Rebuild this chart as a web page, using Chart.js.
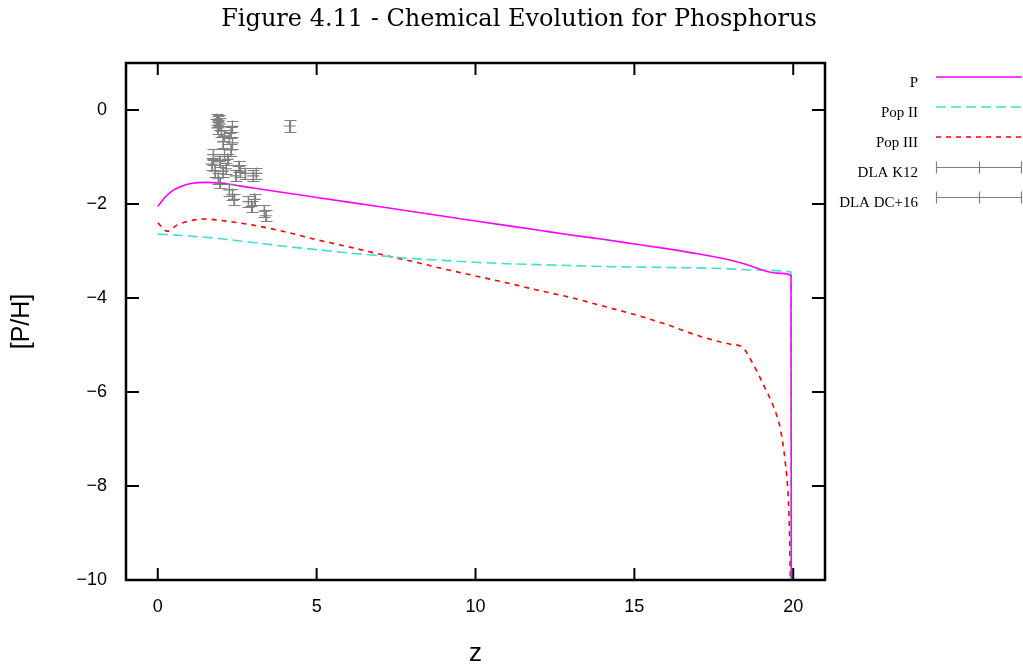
<!DOCTYPE html>
<html>
<head>
<meta charset="utf-8">
<script src="https://cdn.jsdelivr.net/npm/chart.js@4.4.1/dist/chart.umd.min.js"></script>
<style>
    html, body { margin: 0; padding: 0; background: #fff; }
    #wrap { width: 1023px; height: 670px; }
</style>
</head>
<body>
<div id="wrap"><canvas id="chemChart" width="1023" height="670"></canvas></div>
<script>
// Figure 4.11 - [P/H] against redshift z
const chartTitle = 'Figure 4.11 - Chemical Evolution for Phosphorus';
const xTicks = [0, 5, 10, 15, 20];
const yTicks = [0, -2, -4, -6, -8, -10];

// total P
const zP = [0, 0.25, 0.5, 0.75, 1.0, 1.5, 2, 3, 4, 5, 6, 7, 8, 9, 10, 11, 12, 13, 14, 15, 16, 17, 18, 18.5, 19, 19.5, 19.93, 19.94];
const valP = [-2.05, -1.84, -1.70, -1.62, -1.57, -1.54, -1.56, -1.66, -1.76, -1.86, -1.96, -2.06, -2.16, -2.26, -2.36, -2.46, -2.56, -2.66, -2.75, -2.85, -2.95, -3.06, -3.19, -3.28, -3.40, -3.47, -3.52, -10.5];

// Pop II contribution
const zPopII = [0, 1, 2, 3, 4, 5, 6, 7, 8, 9, 10, 11, 12, 13, 14, 15, 16, 17, 18, 19, 19.93, 19.94];
const valPopII = [-2.64, -2.68, -2.74, -2.82, -2.90, -2.97, -3.04, -3.10, -3.16, -3.20, -3.24, -3.27, -3.29, -3.31, -3.33, -3.34, -3.35, -3.36, -3.38, -3.41, -3.45, -10.5];

// Pop III contribution
const zPopIII = [0, 0.3, 0.6, 1.0, 1.5, 2, 3, 4, 5, 6, 7, 8, 9, 10, 11, 12, 13, 14, 15, 16, 17, 18, 18.4, 18.7, 19.1, 19.4, 19.6, 19.75, 19.84, 19.88, 19.92];
const valPopIII = [-2.40, -2.58, -2.45, -2.36, -2.32, -2.35, -2.45, -2.59, -2.76, -2.91, -3.07, -3.22, -3.38, -3.53, -3.68, -3.84, -3.99, -4.17, -4.35, -4.56, -4.80, -4.98, -5.05, -5.36, -5.90, -6.35, -6.80, -7.50, -8.20, -8.90, -10.5];

// DLA observations
const zK12 = [1.85, 1.90, 1.95, 1.88, 2.00, 2.35, 2.30, 2.10, 2.05, 2.35, 2.30, 1.75, 1.70, 1.95, 2.20, 2.15, 2.60, 2.75, 3.00, 3.10, 1.92, 2.25];
const valK12 = [-0.20, -0.25, -0.30, -0.38, -0.45, -0.35, -0.48, -0.55, -0.68, -0.70, -0.85, -0.95, -1.15, -1.10, -1.05, -1.25, -1.30, -1.35, -1.40, -1.35, -0.22, -0.60];
const zDC16 = [1.90, 1.95, 2.25, 2.35, 2.40, 2.85, 2.95, 3.05, 3.35, 3.40, 4.15, 2.55, 1.80, 2.10, 1.75, 2.05, 2.45];
const valDC16 = [-1.45, -1.55, -1.70, -1.80, -1.90, -1.95, -2.05, -1.90, -2.15, -2.25, -0.34, -1.20, -1.30, -0.95, -1.05, -1.30, -1.40];
const dlaErr = 0.12;

const toPoints = (xs, ys) => xs.map((x, i) => ({ x: x, y: ys[i] }));

const legendItems = [
    { label: 'P', color: '#ff00ff', dash: [] },
    { label: 'Pop II', color: '#40e0d0', dash: [10, 5] },
    { label: 'Pop III', color: '#ff0000', dash: [5, 5] },
    { label: 'DLA K12', color: '#808080', err: true },
    { label: 'DLA DC+16', color: '#808080', err: true }
];

// frame, inward ticks, error bars, titles and the side legend
const figurePlugin = {
    id: 'figurePlugin',
    afterDatasetsDraw(chart) {
        const ctx = chart.ctx;
        const xs = chart.scales.x, ys = chart.scales.y;
        ctx.save();
        ctx.strokeStyle = '#808080';
        ctx.lineWidth = 1.2;
        [toPoints(zK12, valK12), toPoints(zDC16, valDC16)].forEach(pts => {
            pts.forEach(p => {
                const px = Math.round(xs.getPixelForValue(p.x)) + 0.5;
                const y1 = Math.round(ys.getPixelForValue(p.y + dlaErr)) + 0.5;
                const y2 = Math.round(ys.getPixelForValue(p.y - dlaErr)) + 0.5;
                ctx.beginPath();
                ctx.moveTo(px, y1); ctx.lineTo(px, y2);
                ctx.moveTo(px - 6, y1); ctx.lineTo(px + 6, y1);
                ctx.moveTo(px - 6, y2); ctx.lineTo(px + 6, y2);
                ctx.stroke();
            });
        });
        ctx.restore();
    },
    afterDraw(chart) {
        const ctx = chart.ctx;
        const a = chart.chartArea;
        const xs = chart.scales.x, ys = chart.scales.y;
        ctx.save();

        // ticks pointing inward, mirrored
        ctx.strokeStyle = '#000';
        ctx.lineWidth = 2;
        ctx.beginPath();
        xTicks.forEach(v => {
            const px = xs.getPixelForValue(v);
            ctx.moveTo(px, a.bottom); ctx.lineTo(px, a.bottom - 12);
            ctx.moveTo(px, a.top); ctx.lineTo(px, a.top + 12);
        });
        yTicks.forEach(v => {
            const py = ys.getPixelForValue(v);
            ctx.moveTo(a.left, py); ctx.lineTo(a.left + 13, py);
            ctx.moveTo(a.right, py); ctx.lineTo(a.right - 13, py);
        });
        ctx.stroke();
        ctx.lineWidth = 2.5;
        ctx.strokeRect(a.left, a.top, a.right - a.left, a.bottom - a.top);

        // title
        ctx.fillStyle = '#000';
        ctx.font = '24px "DejaVu Serif"';
        ctx.textAlign = 'center';
        ctx.textBaseline = 'middle';
        ctx.fillText(chartTitle, 519, 20);

        // axis titles
        ctx.font = '26px "Liberation Sans"';
        ctx.fillText('z', (a.left + a.right) / 2, 654);
        ctx.save();
        ctx.translate(22, (a.top + a.bottom) / 2);
        ctx.rotate(-Math.PI / 2);
        ctx.font = '25px "Liberation Sans"';
        ctx.fillText('[P/H]', 0, 0);
        ctx.restore();

        // legend
        ctx.font = '15px "Liberation Serif"';
        ctx.textAlign = 'right';
        legendItems.forEach((item, i) => {
            const ly = 77 + i * 30;
            ctx.fillStyle = '#000';
            ctx.fillText(item.label, 918, ly + 6);
            ctx.strokeStyle = item.color;
            ctx.beginPath();
            if (item.err) {
                ctx.lineWidth = 1.2;
                ctx.setLineDash([]);
                const yy = ly + 0.5;
                ctx.moveTo(936.5, yy); ctx.lineTo(1021.5, yy);
                ctx.moveTo(936.5, yy - 6); ctx.lineTo(936.5, yy + 6);
                ctx.moveTo(1021.5, yy - 6); ctx.lineTo(1021.5, yy + 6);
                ctx.moveTo(979.5, yy - 6); ctx.lineTo(979.5, yy + 6);
            } else {
                ctx.lineWidth = 1.6;
                ctx.setLineDash(item.dash);
                ctx.moveTo(936, ly); ctx.lineTo(1022, ly);
            }
            ctx.stroke();
        });
        ctx.restore();
    }
};

const ctx = document.getElementById('chemChart').getContext('2d');

new Chart(ctx, {
    type: 'scatter',
    data: {
        datasets: [
            {
                label: 'P',
                data: toPoints(zP, valP),
                showLine: true,
                borderColor: '#ff00ff',
                borderWidth: 1.6,
                pointRadius: 0,
                cubicInterpolationMode: 'monotone'
            },
            {
                label: 'Pop II',
                data: toPoints(zPopII, valPopII),
                showLine: true,
                borderColor: '#40e0d0',
                borderWidth: 1.6,
                borderDash: [10, 5],
                pointRadius: 0,
                cubicInterpolationMode: 'monotone'
            },
            {
                label: 'Pop III',
                data: toPoints(zPopIII, valPopIII),
                showLine: true,
                borderColor: '#ff0000',
                borderWidth: 1.6,
                borderDash: [5, 5],
                pointRadius: 0,
                cubicInterpolationMode: 'monotone'
            },
            {
                label: 'DLA K12',
                data: toPoints(zK12, valK12),
                borderColor: '#808080',
                backgroundColor: '#808080',
                pointStyle: 'cross',
                pointRadius: 6,
                borderWidth: 1.2
            },
            {
                label: 'DLA DC+16',
                data: toPoints(zDC16, valDC16),
                borderColor: '#808080',
                backgroundColor: '#808080',
                pointStyle: 'cross',
                pointRadius: 6,
                borderWidth: 1.2
            }
        ]
    },
    options: {
        responsive: false,
        animation: false,
        layout: { padding: { left: 0, top: 63, right: 198, bottom: 0 } },
        plugins: {
            legend: { display: false },
            title: { display: false },
            tooltip: { enabled: false }
        },
        scales: {
            x: {
                type: 'linear',
                min: -1,
                max: 21,
                afterBuildTicks: (scale) => { scale.ticks = xTicks.map(v => ({ value: v })); },
                afterFit: (scale) => { scale.height = 90; },
                grid: { display: false, drawTicks: false },
                border: { display: false },
                ticks: {
                    color: '#000',
                    padding: 16,
                    font: { family: 'Liberation Sans', size: 18 },
                    callback: (v) => String(v)
                }
            },
            y: {
                type: 'linear',
                min: -10,
                max: 1,
                afterBuildTicks: (scale) => { scale.ticks = yTicks.map(v => ({ value: v })); },
                afterFit: (scale) => { scale.width = 126; },
                grid: { display: false, drawTicks: false },
                border: { display: false },
                ticks: {
                    color: '#000',
                    padding: 19,
                    font: { family: 'Liberation Sans', size: 18 },
                    callback: (v) => (v < 0 ? '\u2212' + Math.abs(v) : String(v))
                }
            }
        }
    },
    plugins: [figurePlugin]
});
</script>
</body>
</html>
